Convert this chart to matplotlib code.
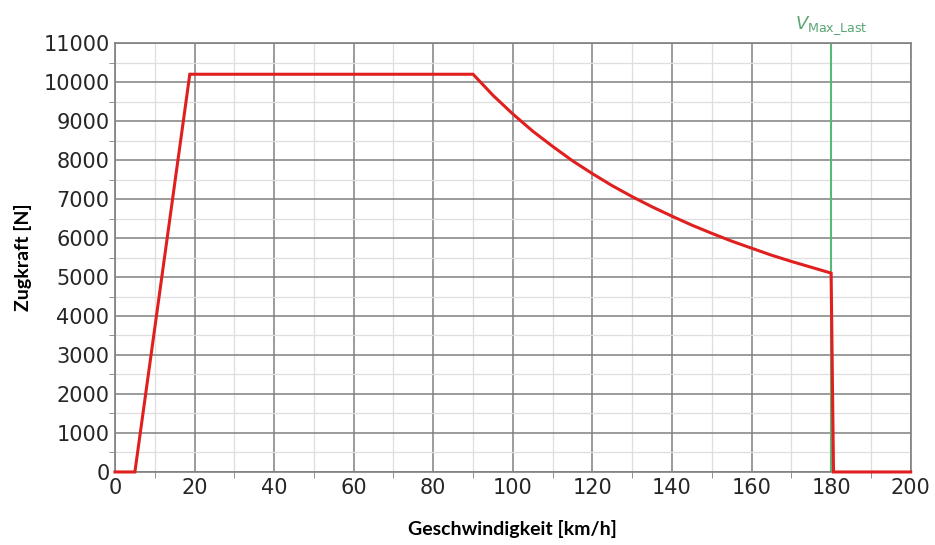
#!/usr/bin/env python

# Zugkraft-Geschwindigkeit characteristic with V_Max_Last marker

import matplotlib
matplotlib.use('Agg')
import matplotlib.pyplot as plt
from matplotlib.ticker import MultipleLocator

# Traction curve (km/h, N)
speed = [0, 5, 18.8, 90, 95, 100, 105, 110, 115, 120, 125, 130, 135, 140,
         145, 150, 155, 160, 165, 170, 175, 180, 180.6, 200]
force = [0, 0, 10200, 10200, 9660, 9180, 8740, 8350, 7980, 7650, 7340, 7060,
         6800, 6560, 6330, 6120, 5920, 5740, 5560, 5400, 5250, 5100, 0, 0]

v_max_last = 180

fig = plt.figure(figsize=(9.35, 5.45), dpi=100, facecolor='white')
ax = fig.add_axes([0.123, 0.134, 0.851, 0.787])

ax.set_xlim(0, 200)
ax.set_ylim(0, 11000)
ax.xaxis.set_major_locator(MultipleLocator(20))
ax.xaxis.set_minor_locator(MultipleLocator(10))
ax.yaxis.set_major_locator(MultipleLocator(1000))
ax.yaxis.set_minor_locator(MultipleLocator(500))

# Grid: dark majors, light minors
ax.grid(which='major', color=(0.5, 0.5, 0.5), linewidth=1.1, zorder=0)
ax.grid(which='minor', color=(0.87, 0.87, 0.87), linewidth=0.9, zorder=0)
ax.set_axisbelow(True)

for sp in ax.spines.values():
    sp.set_color((0.5, 0.5, 0.5))
    sp.set_linewidth(1.2)

ax.tick_params(which='major', labelsize=15, length=0, pad=4, colors=(0.5, 0.5, 0.5),
               labelcolor=(0.15, 0.15, 0.15))
ax.tick_params(which='minor', length=4, direction='out', colors=(0.5, 0.5, 0.5))

ax.set_xlabel('Geschwindigkeit [km/h]', fontfamily='Lato', fontweight='bold',
              fontsize=14, labelpad=16)
ax.set_ylabel('Zugkraft [N]', fontfamily='Lato', fontweight='bold',
              fontsize=14, labelpad=8)

# V_Max_Last marker
ax.axvline(v_max_last, color=(0.35, 0.72, 0.47), linewidth=1.5, zorder=2)
ax.text(v_max_last, 11150, r'$V_{\mathrm{Max\_Last}}$', color=(0.35, 0.65, 0.45),
        fontsize=13, ha='center', va='bottom')

ax.plot(speed, force, color=(0.88, 0.12, 0.12), linewidth=2.2, zorder=3,
        solid_joinstyle='miter', clip_on=False)

fig.savefig('out.png', dpi=100)
